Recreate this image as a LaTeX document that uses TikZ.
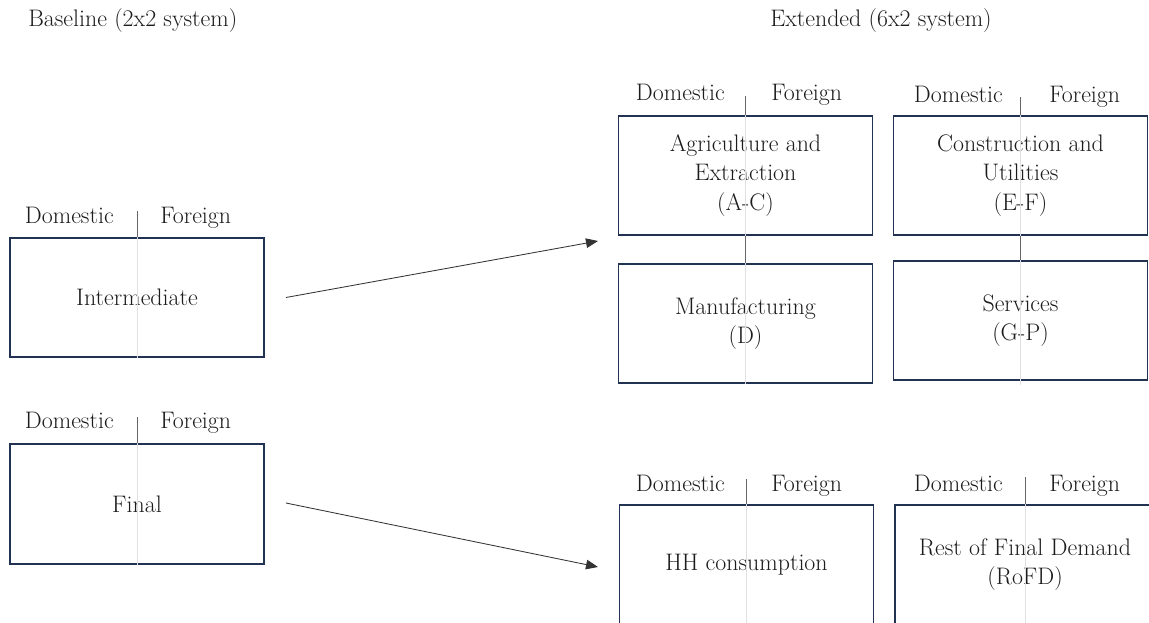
\documentclass[tikz,border=0pt]{standalone}
\usepackage{xcolor}
\usepackage{tikz}
\usetikzlibrary{arrows.meta}

\definecolor{boxblue}{RGB}{34,50,82}
\definecolor{inkgray}{RGB}{28,28,28}

\tikzset{
  sector/.style={rectangle, draw=boxblue, line width=1.3pt, minimum width=6.35cm, minimum height=2.975cm, inner sep=0pt, align=center, text=inkgray},
  lbl/.style={text=inkgray, inner sep=0pt},
  tick/.style={draw=black!60, line width=0.6pt},
  faint/.style={draw=black!12, line width=0.5pt},
  arr/.style={draw=black!80, line width=0.6pt, -{Triangle[length=3mm,width=2.4mm]}}
}

\begin{document}
\begin{tikzpicture}[x=0.025cm, y=-0.025cm, font=\fontsize{17}{21}\selectfont]
\useasboundingbox (0,0) rectangle (1149,623);
\clip (0,0) rectangle (1149,623);

% headings
\node[lbl, anchor=base west] (baseHead) at (28,27) {Baseline (2x2 system)};
\node[lbl, anchor=base west] (extHead) at (770,27) {Extended (6x2 system)};

% baseline system
\node[sector] (int) at (137,297.5) {Intermediate};
\node[sector, minimum height=3cm] (fin) at (137,504) {Final};
\draw[faint] (int.north) -- (int.south);
\draw[faint] (fin.north) -- (fin.south);
\draw[tick] (int.north) -- ++(0,-26) coordinate (intTop);
\draw[tick] (fin.north) -- ++(0,-26) coordinate (finTop);
\node[lbl, anchor=base east] (intD) at (114,223) {Domestic};
\node[lbl, anchor=base west] (intF) at (160,223) {Foreign};
\node[lbl, anchor=base east] (finD) at (114,428) {Domestic};
\node[lbl, anchor=base west] (finF) at (160,428) {Foreign};

% extended system, intermediate sectors
\node[sector] (agri) at (745.5,175.5) {Agriculture and\\Extraction\\(A-C)};
\node[sector] (manu) at (745.5,323.5) {Manufacturing\\(D)};
\node[sector] (cons) at (1020.5,175.5) {Construction and\\Utilities\\(E-F)};
\node[sector] (serv) at (1020.5,320.5) {Services\\(G-P)};
\draw[faint] (agri.north) -- (agri.south);
\draw[faint] (manu.north) -- (manu.south);
\draw[faint] (cons.north) -- (cons.south);
\draw[faint] (serv.north) -- ++(0,125);
\draw[tick] (agri.north) -- ++(0,-19) coordinate (agriTop);
\draw[tick] (cons.north) -- ++(0,-18) coordinate (consTop);
\draw[tick] (agri.south) -- (manu.north);
\draw[tick] (cons.south) -- (serv.north);
\node[lbl, anchor=base east] (agriD) at (725,101) {Domestic};
\node[lbl, anchor=base west] (agriF) at (771,101) {Foreign};
\node[lbl, anchor=base east] (consD) at (1003,103) {Domestic};
\node[lbl, anchor=base west] (consF) at (1049,103) {Foreign};

% extended system, final demand
\node[sector] (hh) at (746.5,564.5) {HH consumption};
\node[sector, minimum width=6.5cm] (rofd) at (1025,564.5) {Rest of Final Demand\\(RoFD)};
\draw[faint] (hh.north) -- (hh.south);
\draw[faint] (rofd.north) -- (rofd.south);
\draw[tick] (hh.north) -- ++(0,-25) coordinate (hhTop);
\draw[tick] (rofd.north) -- ++(0,-27) coordinate (rofdTop);
\node[lbl, anchor=base east] (hhD) at (725,491) {Domestic};
\node[lbl, anchor=base west] (hhF) at (771,491) {Foreign};
\node[lbl, anchor=base east] (rofdD) at (1003,491) {Domestic};
\node[lbl, anchor=base west] (rofdF) at (1049,491) {Foreign};

% arrows
\coordinate (secIn) at (598,241);
\coordinate (fdIn) at (598,567);
\draw[arr] ([xshift=0.525cm]int.east) -- (secIn);
\draw[arr] ([xshift=0.525cm,yshift=0.025cm]fin.east) -- (fdIn);
\end{tikzpicture}
\end{document}
